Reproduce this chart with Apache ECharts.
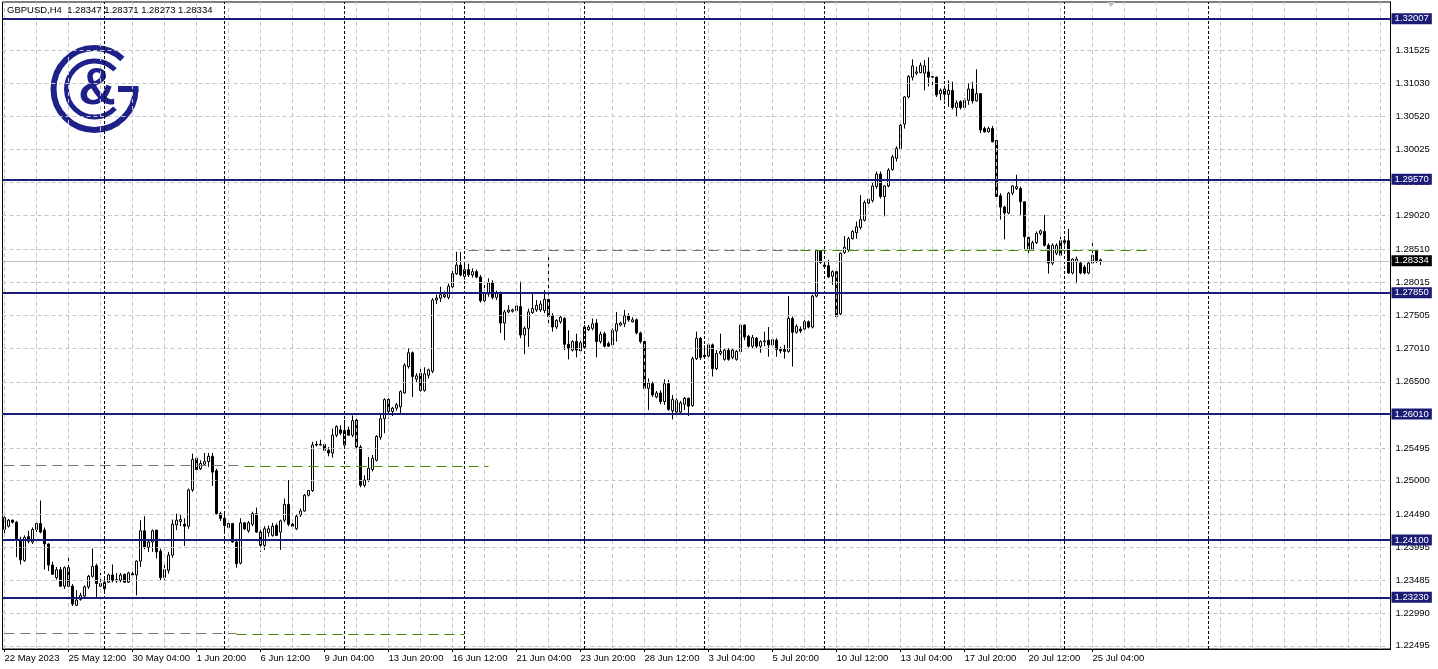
<!DOCTYPE html>
<html><head><meta charset="utf-8">
<script src="https://cdn.jsdelivr.net/npm/echarts@6/dist/echarts.min.js"></script>
<style>html,body{margin:0;padding:0;background:#fff;}#c{width:1438px;height:669px;}</style>
</head><body><div id="c"></div>
<script>
const headerText = 'GBPUSD,H4  1.28347 1.28371 1.28273 1.28334';

const openP = [
1.2426,1.2431,1.2440,1.2437,1.2411,1.2379,1.2415,1.2407,1.2426,1.2435,
1.2425,1.2404,1.2372,1.2353,1.2365,1.2340,1.2368,1.2340,1.2311,1.2320,
1.2325,1.2339,1.2355,1.2371,1.2344,1.2336,1.2346,1.2357,1.2350,1.2349,
1.2358,1.2346,1.2359,1.2357,1.2378,1.2424,1.2399,1.2407,1.2425,1.2393,
1.2353,1.2364,1.2387,1.2433,1.2438,1.2434,1.2431,1.2486,1.2534,1.2518,
1.2525,1.2529,1.2537,1.2515,1.2450,1.2443,1.2429,1.2435,1.2407,1.2375,
1.2436,1.2424,1.2434,1.2450,1.2422,1.2402,1.2421,1.2417,1.2432,1.2422,
1.2440,1.2464,1.2434,1.2427,1.2448,1.2454,1.2478,1.2485,1.2555,1.2555,
1.2555,1.2546,1.2542,1.2569,1.2577,1.2554,1.2577,1.2569,1.2592,1.2551,
1.2493,1.2501,1.2517,1.2531,1.2566,1.2594,1.2623,1.2605,1.2610,1.2612,
1.2633,1.2673,1.2694,1.2654,1.2663,1.2637,1.2660,1.2666,1.2774,1.2777,
1.2779,1.2778,1.2794,1.2814,1.2827,1.2810,1.2820,1.2812,1.2817,1.2809,
1.2773,1.2783,1.2800,1.2778,1.2784,1.2739,1.2756,1.2757,1.2758,1.2764,
1.2721,1.2731,1.2755,1.2759,1.2759,1.2758,1.2775,1.2750,1.2733,1.2741,
1.2746,1.2707,1.2698,1.2711,1.2697,1.2702,1.2729,1.2731,1.2739,1.2711,
1.2723,1.2708,1.2706,1.2727,1.2736,1.2738,1.2750,1.2741,1.2744,1.2724,
1.2711,1.2640,1.2647,1.2627,1.2633,1.2620,1.2647,1.2606,1.2604,1.2604,
1.2616,1.2625,1.2614,1.2685,1.2716,1.2690,1.2689,1.2706,1.2670,1.2693,
1.2684,1.2698,1.2687,1.2684,1.2696,1.2736,1.2719,1.2704,1.2716,1.2704,
1.2711,1.2713,1.2706,1.2713,1.2699,1.2699,1.2696,1.2746,1.2725,1.2730,
1.2730,1.2741,1.2733,1.2780,1.2849,1.2827,1.2826,1.2810,1.2817,1.2753,
1.2846,1.2850,1.2867,1.2876,1.2884,1.2895,1.2921,1.2925,1.2946,1.2965,
1.2931,1.2947,1.2972,1.2989,1.3004,1.3041,1.3082,1.3112,1.3118,1.3119,
1.3118,1.3120,1.3112,1.3112,1.3087,1.3086,1.3086,1.3092,1.3066,1.3075,
1.3066,1.3077,1.3094,1.3076,1.3087,1.3034,1.3029,1.3034,1.3016,1.2932,
1.2915,1.2906,1.2936,1.2943,1.2943,1.2923,1.2869,1.2851,1.2861,1.2875,
1.2878,1.2857,1.2830,1.2845,1.2864,1.2861,1.2864,1.2815,1.2832,1.2830,
1.2824,1.2815,1.2830,1.2850,1.28347];

const highP = [
1.2446,1.2442,1.2441,1.2439,1.2415,1.2417,1.2424,1.2429,1.2440,1.2470,
1.2429,1.2405,1.2377,1.2369,1.2369,1.2370,1.2388,1.2343,1.2334,1.2330,
1.2341,1.2357,1.2397,1.2374,1.2360,1.2354,1.2359,1.2373,1.2360,1.2360,
1.2359,1.2362,1.2363,1.2379,1.2440,1.2446,1.2410,1.2426,1.2425,1.2397,
1.2372,1.2392,1.2441,1.2450,1.2448,1.2443,1.2488,1.2541,1.2535,1.2531,
1.2542,1.2542,1.2542,1.2518,1.2453,1.2451,1.2439,1.2436,1.2411,1.2443,
1.2437,1.2439,1.2453,1.2459,1.2427,1.2431,1.2432,1.2436,1.2435,1.2441,
1.2473,1.2501,1.2437,1.2449,1.2458,1.2480,1.2486,1.2559,1.2560,1.2562,
1.2557,1.2551,1.2579,1.2584,1.2584,1.2592,1.2582,1.2599,1.2594,1.2554,
1.2508,1.2536,1.2539,1.2569,1.2600,1.2625,1.2625,1.2612,1.2618,1.2637,
1.2678,1.2701,1.2696,1.2663,1.2670,1.2672,1.2670,1.2777,1.2782,1.2794,
1.2787,1.2799,1.2818,1.2847,1.2847,1.2830,1.2829,1.2822,1.2820,1.2812,
1.2802,1.2807,1.2804,1.2788,1.2787,1.2759,1.2766,1.2761,1.2769,1.2802,
1.2734,1.2761,1.2784,1.2774,1.2773,1.2789,1.2839,1.2754,1.2745,1.2750,
1.2748,1.2728,1.2713,1.2723,1.2712,1.2736,1.2736,1.2746,1.2745,1.2726,
1.2726,1.2711,1.2731,1.2756,1.2741,1.2759,1.2754,1.2748,1.2746,1.2726,
1.2713,1.2655,1.2650,1.2636,1.2637,1.2654,1.2653,1.2630,1.2625,1.2621,
1.2627,1.2626,1.2688,1.2726,1.2718,1.2705,1.2708,1.2708,1.2698,1.2723,
1.2701,1.2701,1.2701,1.2698,1.2738,1.2737,1.2721,1.2721,1.2718,1.2713,
1.2726,1.2733,1.2716,1.2716,1.2703,1.2706,1.2780,1.2749,1.2737,1.2734,
1.2749,1.2743,1.2782,1.2850,1.2850,1.2830,1.2835,1.2819,1.2819,1.2846,
1.2871,1.2870,1.2880,1.2893,1.2933,1.2925,1.2930,1.2952,1.2969,1.2969,
1.2948,1.2974,1.2994,1.3007,1.3042,1.3083,1.3115,1.3139,1.3128,1.3134,
1.3138,1.3142,1.3114,1.3113,1.3095,1.3099,1.3107,1.3105,1.3077,1.3077,
1.3080,1.3103,1.3105,1.3124,1.3088,1.3037,1.3037,1.3038,1.3017,1.2936,
1.2917,1.2938,1.2948,1.2964,1.2946,1.2923,1.2870,1.2864,1.2878,1.2881,
1.2903,1.2860,1.2860,1.2860,1.2870,1.2867,1.2882,1.2837,1.2840,1.2832,
1.2827,1.2832,1.2862,1.2851,1.28371];

const lowP = [
1.2419,1.2429,1.2435,1.2384,1.2373,1.2377,1.2405,1.2404,1.2422,1.2420,
1.2365,1.2363,1.2357,1.2350,1.2339,1.2336,1.2339,1.2310,1.2310,1.2318,
1.2324,1.2336,1.2353,1.2323,1.2339,1.2331,1.2345,1.2346,1.2345,1.2346,
1.2345,1.2345,1.2354,1.2326,1.2369,1.2396,1.2392,1.2392,1.2382,1.2349,
1.2349,1.2359,1.2383,1.2425,1.2431,1.2401,1.2427,1.2483,1.2515,1.2516,
1.2524,1.2521,1.2492,1.2448,1.2439,1.2422,1.2426,1.2406,1.2368,1.2373,
1.2425,1.2421,1.2431,1.2421,1.2392,1.2395,1.2415,1.2415,1.2416,1.2395,
1.2437,1.2431,1.2427,1.2425,1.2445,1.2453,1.2476,1.2483,1.2552,1.2553,
1.2545,1.2537,1.2535,1.2566,1.2569,1.2550,1.2568,1.2566,1.2549,1.2490,
1.2490,1.2498,1.2514,1.2529,1.2562,1.2572,1.2594,1.2598,1.2606,1.2600,
1.2632,1.2670,1.2627,1.2650,1.2635,1.2635,1.2655,1.2663,1.2768,1.2771,
1.2777,1.2775,1.2789,1.2812,1.2810,1.2805,1.2809,1.2808,1.2807,1.2770,
1.2771,1.2779,1.2775,1.2774,1.2724,1.2713,1.2754,1.2755,1.2756,1.2716,
1.2692,1.2703,1.2753,1.2756,1.2756,1.2754,1.2738,1.2726,1.2730,1.2738,
1.2698,1.2684,1.2696,1.2687,1.2693,1.2701,1.2727,1.2728,1.2687,1.2708,
1.2702,1.2703,1.2704,1.2711,1.2734,1.2733,1.2741,1.2740,1.2722,1.2708,
1.2637,1.2607,1.2627,1.2625,1.2616,1.2615,1.2606,1.2593,1.2602,1.2602,
1.2607,1.2598,1.2612,1.2683,1.2683,1.2685,1.2687,1.2658,1.2668,1.2690,
1.2682,1.2682,1.2684,1.2682,1.2692,1.2713,1.2702,1.2701,1.2701,1.2694,
1.2704,1.2688,1.2703,1.2688,1.2693,1.2685,1.2694,1.2673,1.2723,1.2724,
1.2729,1.2731,1.2731,1.2778,1.2829,1.2822,1.2808,1.2797,1.2747,1.2751,
1.2844,1.2847,1.2866,1.2867,1.2881,1.2893,1.2915,1.2922,1.2943,1.2928,
1.2901,1.2945,1.2970,1.2984,1.3002,1.3034,1.3080,1.3107,1.3115,1.3118,
1.3092,1.3098,1.3097,1.3082,1.3077,1.3077,1.3067,1.3063,1.3052,1.3063,
1.3065,1.3070,1.3072,1.3075,1.3027,1.3028,1.3028,1.3013,1.2930,1.2896,
1.2866,1.2904,1.2933,1.2941,1.2903,1.2851,1.2839,1.2850,1.2859,1.2872,
1.2855,1.2814,1.2827,1.2842,1.2841,1.2857,1.2814,1.2813,1.2799,1.2813,
1.2813,1.2813,1.2829,1.2830,1.28273];

const closeP = [
1.2444,1.2440,1.2437,1.2411,1.2380,1.2414,1.2408,1.2426,1.2435,1.2422,
1.2404,1.2372,1.2358,1.2365,1.2340,1.2368,1.2340,1.2313,1.2319,1.2326,
1.2339,1.2355,1.2370,1.2344,1.2340,1.2346,1.2357,1.2349,1.2348,1.2357,
1.2346,1.2360,1.2357,1.2378,1.2424,1.2399,1.2407,1.2424,1.2392,1.2353,
1.2365,1.2387,1.2434,1.2440,1.2441,1.2431,1.2486,1.2532,1.2517,1.2526,
1.2529,1.2537,1.2513,1.2450,1.2443,1.2432,1.2435,1.2407,1.2374,1.2436,
1.2427,1.2436,1.2450,1.2422,1.2402,1.2427,1.2427,1.2431,1.2417,1.2439,
1.2464,1.2434,1.2431,1.2446,1.2454,1.2478,1.2485,1.2554,1.2554,1.2554,
1.2546,1.2542,1.2569,1.2582,1.2572,1.2576,1.2569,1.2591,1.2551,1.2493,
1.2501,1.2519,1.2534,1.2567,1.2594,1.2623,1.2605,1.2610,1.2615,1.2635,
1.2675,1.2694,1.2658,1.2659,1.2637,1.2662,1.2668,1.2774,1.2777,1.2782,
1.2782,1.2795,1.2814,1.2827,1.2812,1.2820,1.2812,1.2817,1.2809,1.2773,
1.2784,1.2800,1.2778,1.2784,1.2739,1.2756,1.2759,1.2759,1.2765,1.2721,
1.2731,1.2756,1.2761,1.2766,1.2768,1.2775,1.2749,1.2733,1.2743,1.2748,
1.2707,1.2701,1.2711,1.2698,1.2709,1.2733,1.2733,1.2738,1.2711,1.2722,
1.2704,1.2704,1.2728,1.2738,1.2739,1.2750,1.2744,1.2744,1.2724,1.2711,
1.2640,1.2648,1.2630,1.2633,1.2620,1.2647,1.2608,1.2623,1.2622,1.2618,
1.2625,1.2613,1.2685,1.2716,1.2687,1.2688,1.2706,1.2670,1.2693,1.2696,
1.2698,1.2684,1.2698,1.2696,1.2736,1.2718,1.2704,1.2717,1.2704,1.2711,
1.2712,1.2706,1.2714,1.2699,1.2697,1.2696,1.2746,1.2725,1.2734,1.2727,
1.2741,1.2733,1.2780,1.2849,1.2831,1.2825,1.2809,1.2817,1.2749,1.2845,
1.2854,1.2867,1.2878,1.2885,1.2896,1.2922,1.2927,1.2947,1.2965,1.2931,
1.2947,1.2971,1.2991,1.3004,1.3039,1.3082,1.3113,1.3129,1.3120,1.3130,
1.3129,1.3112,1.3113,1.3085,1.3092,1.3094,1.3092,1.3066,1.3073,1.3066,
1.3077,1.3094,1.3076,1.3087,1.3032,1.3029,1.3034,1.3014,1.2931,1.2915,
1.2906,1.2936,1.2947,1.2946,1.2923,1.2870,1.2851,1.2861,1.2875,1.2879,
1.2857,1.2830,1.2857,1.2857,1.2842,1.2864,1.2815,1.2836,1.2836,1.2815,
1.2815,1.2830,1.2842,1.2834,1.28334];

// time axis labels (one every 16 H4 bars)
const timeLabels = ['22 May 2023','25 May 12:00','30 May 04:00','1 Jun 20:00','6 Jun 12:00','9 Jun 04:00',
  '13 Jun 20:00','16 Jun 12:00','21 Jun 04:00','23 Jun 20:00','28 Jun 12:00','3 Jul 04:00',
  '5 Jul 20:00','10 Jul 12:00','13 Jul 04:00','17 Jul 20:00','20 Jul 12:00','25 Jul 04:00'];
const labelEvery = 16;
const gridEvery = 8;
const totalSlots = 347;
// bars where a new week starts (period separators)
const weekStarts = [25, 55, 85, 115, 145, 175, 205, 235, 265, 301];
// right price scale labels
const priceTicks = [1.31525,1.31030,1.30520,1.30025,1.29525,1.29020,1.28510,1.28015,1.27505,1.27010,
  1.26500,1.26005,1.25495,1.25000,1.24490,1.23995,1.23485,1.22990,1.22495];
// horizontal support / resistance levels
const levels = [1.32007, 1.29570, 1.27850, 1.26010, 1.24100, 1.23230];
const lastPrice = 1.28334;
// dashed trend-level segments: price, from bar, to bar, kind
const dashPrice = [1.28490, 1.28490, 1.25235, 1.25212, 1.22686, 1.22670];
const dashFrom  = [116, 199, 0, 60, 0, 58];
const dashTo    = [199, 287, 60, 121, 58, 115];
const dashKind  = ['old','new','old','new','old','new'];

const yMin = 1.22447, yMax = 1.32260;

const NAVY = '#1a1c78';
const FONT = 'Liberation Sans';
const FS = 9.5;

const chart = echarts.init(document.getElementById('c'), null, {renderer: 'canvas'});
const cats = Array.from({length: totalSlots}, (_, i) => 'b' + i);
const candles = openP.map((o, i) => [o, closeP[i], lowP[i], highP[i]]);

const gridV = [];
for (let i = 0; i < totalSlots; i += gridEvery) gridV.push({xAxis: i});

const dashData = dashPrice.map((p, k) => [
  {coord: [dashFrom[k], p], lineStyle: {color: dashKind[k] === 'old' ? '#6f7d5c' : '#3c8f00', width: 1, type: [10, 6]}},
  {coord: [dashTo[k], p]}
]);

const option = {
  animation: false,
  backgroundColor: '#ffffff',
  textStyle: {fontFamily: FONT},
  grid: {left: 2.5, right: 47.5, top: 2, bottom: 20, show: true, borderColor: '#000', borderWidth: 1, backgroundColor: '#fff'},
  xAxis: {
    type: 'category', data: cats, boundaryGap: true,
    axisLine: {lineStyle: {color: '#000', width: 1}},
    axisTick: {show: true, alignWithLabel: true, length: 3, lineStyle: {color: '#000'},
      interval: (i) => i % labelEvery === 0 && i / labelEvery < timeLabels.length},
    axisLabel: {
      interval: (i) => i % labelEvery === 0 && i / labelEvery < timeLabels.length,
      formatter: (v, i) => timeLabels[i / labelEvery] || '',
      align: 'left', margin: 4, color: '#000', fontSize: FS, fontFamily: FONT
    },
    splitLine: {show: false}
  },
  yAxis: {
    type: 'value', position: 'right', min: yMin, max: yMax, scale: true,
    axisLine: {show: true, lineStyle: {color: '#000'}},
    axisTick: {show: false}, axisLabel: {show: false}, splitLine: {show: false}
  },
  graphic: [
    {type: 'text', left: 7, top: 5, z: 100, style: {text: headerText, font: FS + 'px ' + FONT, fill: '#000'}},
    {type: 'polygon', z: 100, shape: {points: [[1107, 2], [1115, 2], [1111, 7]]}, style: {fill: '#c4c4c4'}},
    {type: 'group', z: 50, children: [
      {type: 'arc', shape: {cx: 94.5, cy: 89, r: 41, startAngle: 0, endAngle: 5.46, clockwise: true},
        style: {stroke: '#1f218a', lineWidth: 6, fill: null}},
      {type: 'rect', shape: {x: 118, y: 86, width: 20.5, height: 6}, style: {fill: '#1f218a'}},
      {type: 'arc', shape: {cx: 94.5, cy: 89, r: 28, startAngle: 0.75, endAngle: 5.53, clockwise: true},
        style: {stroke: '#1f218a', lineWidth: 5, fill: null}},
      {type: 'text', x: 97, y: 90, style: {text: '&', font: 'bold 52px ' + FONT, fill: '#1f218a', align: 'center', verticalAlign: 'middle'}}
    ]}
  ],
  series: [
    { // grid lines + price scale labels
      type: 'line', data: [], z: 1, silent: true,
      markLine: {
        silent: true, symbol: ['none', 'none'], animation: false, precision: 5,
        lineStyle: {color: '#c6c6c6', type: [4, 3], width: 1},
        label: {show: true, position: 'end', distance: 5, color: '#000', fontSize: FS, fontFamily: FONT,
          formatter: (p) => p.value.toFixed(5)},
        data: priceTicks.map(v => ({yAxis: v})).concat(gridV.map(d => Object.assign({label: {show: false}}, d)))
      }
    },
    { // weekly separators
      type: 'line', data: [], z: 2, silent: true,
      markLine: {
        silent: true, symbol: ['none', 'none'], animation: false,
        lineStyle: {color: '#000', type: [3, 2], width: 1},
        label: {show: false},
        data: weekStarts.map(i => ({xAxis: i}))
      }
    },
    {
      type: 'candlestick', name: 'GBPUSD', z: 3, data: candles, barWidth: 2,
      itemStyle: {color: '#ffffff', color0: '#000000', borderColor: '#000000', borderColor0: '#000000', borderWidth: 1}
    },
    { // dashed levels
      type: 'line', data: [], z: 4, silent: true,
      markLine: {silent: true, symbol: ['none', 'none'], animation: false, precision: 5, label: {show: false}, data: dashData}
    },
    { // current price
      type: 'line', data: [], z: 5, silent: true,
      markLine: {
        silent: true, symbol: ['none', 'none'], animation: false, precision: 5,
        lineStyle: {color: '#c0c0c0', type: 'solid', width: 1},
        label: {show: true, position: 'end', distance: 1, color: '#fff', backgroundColor: '#000',
          padding: [1, 3, 0, 3], fontSize: FS, fontFamily: FONT, formatter: (p) => p.value.toFixed(5)},
        data: [{yAxis: lastPrice}]
      }
    },
    { // support / resistance
      type: 'line', data: [], z: 6, silent: true,
      markLine: {
        silent: true, symbol: ['none', 'none'], animation: false, precision: 5,
        lineStyle: {color: NAVY, type: 'solid', width: 2},
        label: {show: true, position: 'end', distance: 1, color: '#fff', backgroundColor: NAVY,
          padding: [1, 3, 0, 3], fontSize: FS, fontFamily: FONT, formatter: (p) => p.value.toFixed(5)},
        data: levels.map(v => ({yAxis: v}))
      }
    }
  ]
};
chart.setOption(option);
</script>
</body></html>
